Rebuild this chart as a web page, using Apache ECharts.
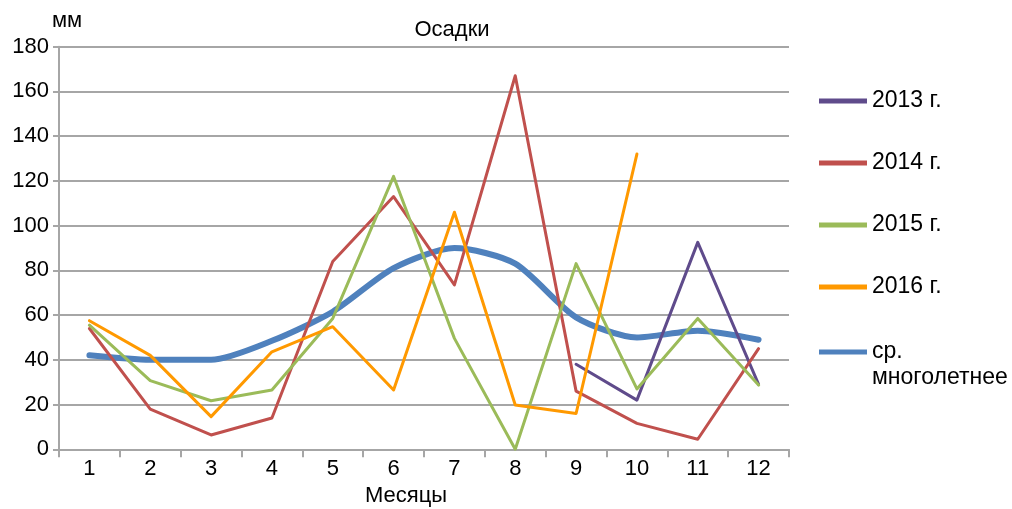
<!DOCTYPE html>
<html>
<head>
<meta charset="utf-8">
<script src="https://cdn.jsdelivr.net/npm/echarts@6/dist/echarts.min.js"></script>
<style>
  html, body { margin: 0; padding: 0; background: #fff; }
  #chart { width: 1012px; height: 509px; }
</style>
</head>
<body>
<div id="chart"></div>
<script>
// Monthly precipitation, mm
const months = ['1', '2', '3', '4', '5', '6', '7', '8', '9', '10', '11', '12'];
const yTicks = [0, 20, 40, 60, 80, 100, 120, 140, 160, 180];

const y2013 = [null, null, null, null, null, null, null, null, 38, 22, 92.5, 29];
const y2014 = [54, 18, 6.4, 14, 84, 113, 73.5, 167, 26, 11.6, 4.5, 45];
const y2015 = [55.5, 30.7, 21.7, 26.5, 58.5, 122, 49.6, 0, 83, 27, 58.5, 28.7];
const y2016 = [57.5, 42, 14.6, 43.6, 54.8, 26.5, 106, 19.8, 16, 132, null, null];
const yAvg  = [42, 40, 40, 48.5, 61.5, 81, 90, 83, 59, 50, 53, 49];

const seriesNames = ['2013 г.', '2014 г.', '2015 г.', '2016 г.', 'ср. многолетнее'];
const seriesColors = ['#5F4B8B', '#C0504D', '#9BBB59', '#FF9900', '#4F81BD'];
const seriesData = [y2013, y2014, y2015, y2016, yAvg];

const font = 'Liberation Sans, Arial, sans-serif';
const fs = 22;
const legendFs = 23;

const chart = echarts.init(document.getElementById('chart'));

const series = seriesData.map((d, i) => ({
  name: seriesNames[i],
  type: 'line',
  data: d,
  symbol: 'none',
  smooth: i === 4 ? 0.25 : false,
  connectNulls: false,
  z: i === 4 ? 1 : 2,
  lineStyle: { color: seriesColors[i], width: i === 4 ? 6 : 3, cap: 'round', join: 'round' },
  itemStyle: { color: seriesColors[i] }
}));

const legendBase = {
  orient: 'vertical',
  left: 819,
  padding: 0,
  itemWidth: 48,
  itemHeight: 5,
  icon: 'rect',
  textStyle: { fontFamily: font, fontSize: legendFs, color: '#000', lineHeight: 26 }
};

chart.setOption({
  animation: false,
  backgroundColor: '#fff',
  title: {
    text: 'Осадки',
    left: 447, top: 14,
    textAlign: 'center',
    textStyle: { fontFamily: font, fontSize: fs, fontWeight: 'normal', color: '#000' }
  },
  grid: { left: 59, right: 223, top: 46.7, bottom: 59.7, containLabel: false, outerBoundsMode: 'none' },
  legend: [
    Object.assign({}, legendBase, {
      top: 88,
      itemGap: 36,
      data: seriesNames.slice(0, 4)
    }),
    Object.assign({}, legendBase, {
      top: 313,
      data: [seriesNames[4]],
      // two-line caption, icon level with the first line
      formatter: () => '{e| }\n{t|ср.}\n{t|многолетнее}',
      textStyle: {
        fontFamily: font, fontSize: legendFs, color: '#000', lineHeight: 26,
        rich: {
          e: { fontSize: legendFs, lineHeight: 26 },
          t: { fontFamily: font, fontSize: legendFs, color: '#000', lineHeight: 26 }
        }
      }
    })
  ],
  xAxis: {
    type: 'category',
    data: months,
    boundaryGap: true,
    name: 'Месяцы',
    nameLocation: 'middle',
    nameGap: 36,
    nameTextStyle: { fontFamily: font, fontSize: fs, color: '#000', padding: [0, 36, 0, 0] },
    axisLine: { lineStyle: { color: '#a6a6a6', width: 2 } },
    axisTick: { show: true, length: 8, lineStyle: { color: '#a6a6a6', width: 2 } },
    axisLabel: { fontFamily: font, fontSize: fs, color: '#000', margin: 9 }
  },
  yAxis: {
    type: 'value',
    min: yTicks[0],
    max: yTicks[yTicks.length - 1],
    interval: yTicks[1] - yTicks[0],
    name: 'мм',
    nameLocation: 'end',
    nameGap: 15,
    nameTextStyle: { fontFamily: font, fontSize: fs, color: '#000', align: 'center', padding: [0, 0, 0, 16] },
    axisLine: { show: true, lineStyle: { color: '#a6a6a6', width: 2 } },
    axisTick: { show: true, inside: false, length: 6, lineStyle: { color: '#a6a6a6', width: 2 } },
    axisLabel: { fontFamily: font, fontSize: fs, color: '#000', margin: 10 },
    splitLine: { lineStyle: { color: '#a6a6a6', width: 2 } }
  },
  series: series
});
</script>
</body>
</html>
